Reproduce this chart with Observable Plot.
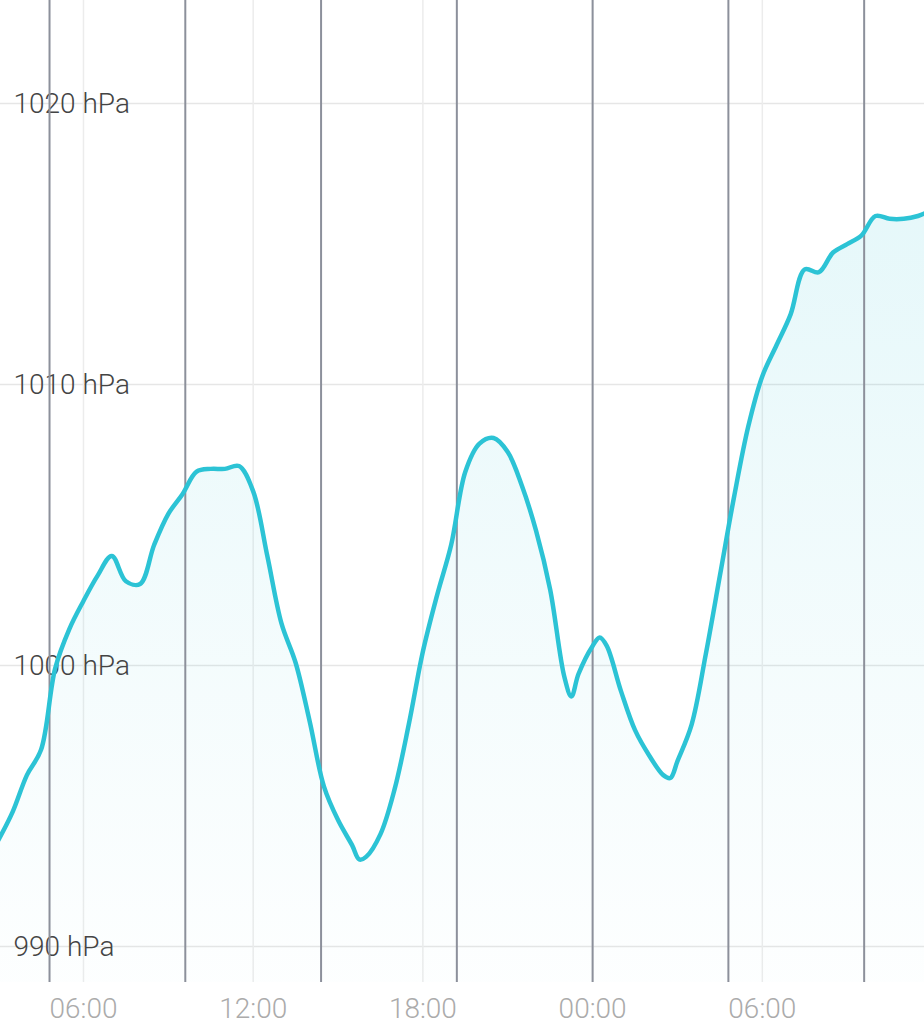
<!DOCTYPE html>
<html><head><meta charset="utf-8">
<script src="https://cdn.jsdelivr.net/npm/d3@7"></script>
<script src="https://cdn.jsdelivr.net/npm/@observablehq/plot@0.6"></script>
<style>html,body{margin:0;padding:0;background:#fff;overflow:hidden}</style>
</head><body><div id="chart"></div>
<script>
const times = [
  "2024-05-01T03:00","2024-05-01T03:30","2024-05-01T04:00","2024-05-01T04:30","2024-05-01T05:00","2024-05-01T05:30",
  "2024-05-01T06:00","2024-05-01T06:30","2024-05-01T07:00","2024-05-01T07:30","2024-05-01T08:00","2024-05-01T08:30",
  "2024-05-01T09:00","2024-05-01T09:30","2024-05-01T10:00","2024-05-01T10:30","2024-05-01T11:00","2024-05-01T11:30",
  "2024-05-01T12:00","2024-05-01T12:30","2024-05-01T13:00","2024-05-01T13:30","2024-05-01T14:00","2024-05-01T14:30",
  "2024-05-01T15:00","2024-05-01T15:30","2024-05-01T15:45","2024-05-01T16:00","2024-05-01T16:30","2024-05-01T17:00",
  "2024-05-01T17:30","2024-05-01T18:00","2024-05-01T18:30","2024-05-01T19:00","2024-05-01T19:30","2024-05-01T20:00",
  "2024-05-01T20:30","2024-05-01T21:00","2024-05-01T21:30","2024-05-01T22:00","2024-05-01T22:30","2024-05-01T23:00",
  "2024-05-01T23:15","2024-05-01T23:30","2024-05-02T00:00","2024-05-02T00:15","2024-05-02T00:30","2024-05-02T01:00",
  "2024-05-02T01:30","2024-05-02T02:00","2024-05-02T02:30","2024-05-02T02:45","2024-05-02T03:00","2024-05-02T03:30",
  "2024-05-02T04:00","2024-05-02T04:30","2024-05-02T05:00","2024-05-02T05:30","2024-05-02T06:00","2024-05-02T06:30",
  "2024-05-02T07:00","2024-05-02T07:30","2024-05-02T08:00","2024-05-02T08:30","2024-05-02T09:00","2024-05-02T09:30",
  "2024-05-02T10:00","2024-05-02T10:30","2024-05-02T11:00","2024-05-02T11:30","2024-05-02T11:45"
];
const pressure = [
  993.8, 994.8, 996.1, 997.0, 999.9, 1001.3,
  1002.3, 1003.2, 1003.9, 1003.0, 1002.9, 1004.3,
  1005.4, 1006.1, 1006.9, 1007.0, 1007.0, 1007.1,
  1006.2, 1003.9, 1001.5, 1000.1, 998.0, 995.7,
  994.5, 993.6, 993.1, 993.2, 994.0, 995.6,
  997.9, 1000.5, 1002.5, 1004.3, 1006.9, 1007.9,
  1008.1, 1007.6, 1006.4, 1004.8, 1002.7, 999.6,
  998.9, 999.7, 1000.7, 1001.0, 1000.7, 999.1,
  997.7, 996.8, 996.1, 996.0, 996.6, 997.9,
  1000.4, 1003.2, 1006.0, 1008.5, 1010.3, 1011.4,
  1012.5, 1014.1, 1014.0, 1014.7, 1015.0, 1015.3,
  1016.0, 1015.9, 1015.9, 1016.0, 1016.1
];
const markerTimes = ["2024-05-01T04:48","2024-05-01T09:36","2024-05-01T14:24","2024-05-01T19:12","2024-05-02T00:00","2024-05-02T04:48","2024-05-02T09:36"];
const xTicks = ["2024-05-01T06:00","2024-05-01T12:00","2024-05-01T18:00","2024-05-02T00:00","2024-05-02T06:00"];
const yTicks = [990, 1000, 1010, 1020];
const yTickLabels = ["990 hPa", "1000 hPa", "1010 hPa", "1020 hPa"];
const xDomain = ["2024-05-01T03:04", "2024-05-02T11:44"];
const yDomain = [988.72, 1023.67];

const parse = s => new Date(s + ":00Z");
const data = times.map((t, i) => ({t: parse(t), p: pressure[i]}));
const xTickDates = xTicks.map(parse);
const markerDates = markerTimes.map(parse);
const x0 = parse(xDomain[0]);

const plot = Plot.plot({
  width: 924,
  height: 1024,
  marginLeft: 0, marginRight: 0, marginTop: 0, marginBottom: 42,
  style: {fontFamily: "Roboto, sans-serif", background: "#fff"},
  x: {type: "utc", domain: xDomain.map(parse)},
  y: {domain: yDomain},
  marks: [
    Plot.ruleY(yTicks, {stroke: "#e6e6e6", strokeWidth: 1.5}),
    Plot.ruleX(xTickDates, {stroke: "#ececec", strokeWidth: 1.5}),
    Plot.areaY(data, {x: "t", y1: yDomain[0], y2: "p", fill: "url(#pgrad)", curve: "catmull-rom"}),
    Plot.text(yTicks, {x: x0, y: d => d, text: (d, i) => yTickLabels[i], textAnchor: "start", dx: 13, fontSize: 28, fontWeight: 300, fill: "#444"}),
    Plot.ruleX(markerDates, {stroke: "#8c909b", strokeWidth: 2}),
    Plot.line(data, {x: "t", y: "p", stroke: "#2cc3d5", strokeWidth: 4.5, curve: "catmull-rom"}),
    Plot.axisX(xTickDates, {tickFormat: d3.utcFormat("%H:%M"), tickSize: 0, tickPadding: 16, fontSize: 28, fontWeight: 300, fill: "#ababab", label: null}),
    Plot.axisY({ticks: [], label: null})
  ]
});
const svg = plot.tagName.toLowerCase() === "svg" ? plot : plot.querySelector("svg");
const defs = d3.select(svg).insert("defs", ":first-child");
const g = defs.append("linearGradient").attr("id", "pgrad").attr("x1", 0).attr("y1", 0).attr("x2", 0).attr("y2", 1);
g.append("stop").attr("offset", "0%").attr("stop-color", "#2cc3d5").attr("stop-opacity", 0.12);
g.append("stop").attr("offset", "60%").attr("stop-color", "#2cc3d5").attr("stop-opacity", 0.05);
g.append("stop").attr("offset", "100%").attr("stop-color", "#2cc3d5").attr("stop-opacity", 0.01);
document.getElementById("chart").appendChild(plot);
</script>
</body></html>
